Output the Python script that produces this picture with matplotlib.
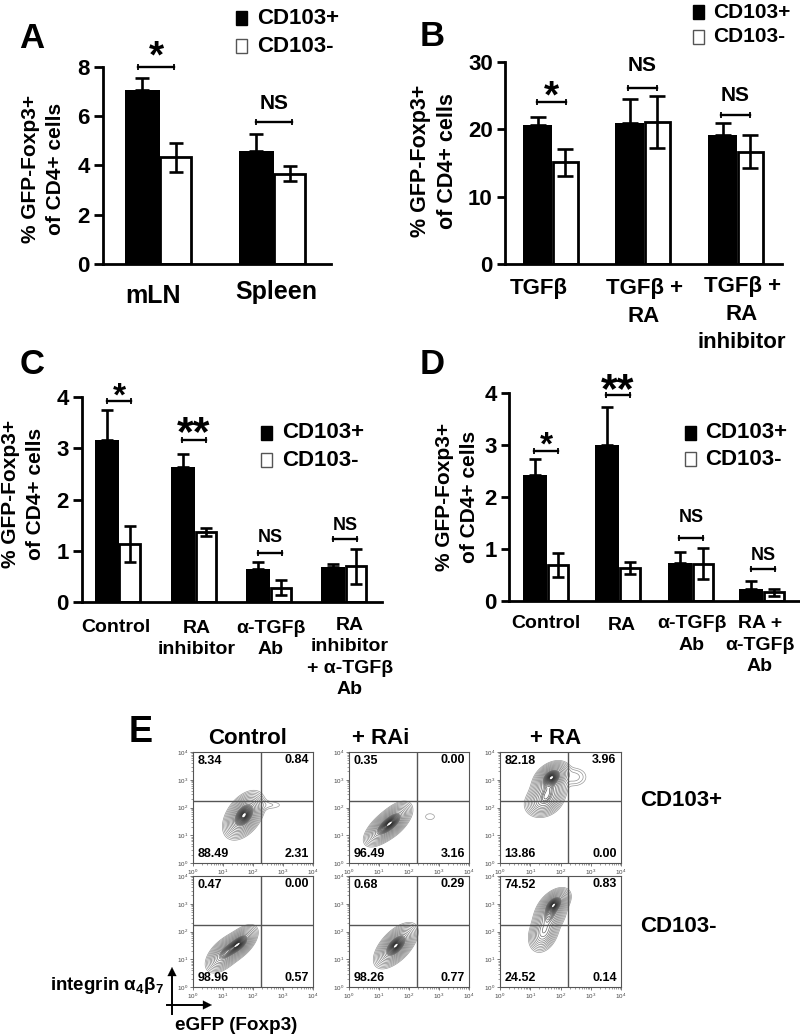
import matplotlib
matplotlib.use("Agg")
import matplotlib.pyplot as plt
import numpy as np

plt.rcParams["font.family"] = ["Liberation Sans", "DejaVu Sans"]
plt.rcParams["font.weight"] = "bold"
plt.rcParams["mathtext.fontset"] = "custom"
plt.rcParams["mathtext.bf"] = "Liberation Sans:bold"
plt.rcParams["mathtext.rm"] = "Liberation Sans"

W, H = 800, 1036

# panel A
a_groups = ["mLN", "Spleen"]
a_pos = [7.05, 4.58]
a_pos_err = [0.52, 0.68]
a_neg = [4.33, 3.66]
a_neg_err = [0.58, 0.30]
a_yticks = [0, 2, 4, 6, 8]
a_sig = ["*", "NS"]
a_sig_y = [8.0, 5.77]

# panel B
b_groups = ["TGFβ", "TGFβ +\nRA", "TGFβ +\nRA\ninhibitor"]
b_pos = [20.6, 20.9, 19.1]
b_pos_err = [1.3, 3.6, 1.9]
b_neg = [15.1, 21.1, 16.7]
b_neg_err = [2.0, 3.8, 2.5]
b_yticks = [0, 10, 20, 30]
b_sig = ["*", "NS", "NS"]
b_sig_y = [24.05, 26.2, 22.07]

# panel C
c_groups = ["Control", "RA\ninhibitor", "α-TGFβ\nAb", "RA\ninhibitor\n+ α-TGFβ\nAb"]
c_pos = [3.17, 2.63, 0.64, 0.68]
c_pos_err = [0.58, 0.25, 0.14, 0.055]
c_neg = [1.14, 1.37, 0.28, 0.70]
c_neg_err = [0.35, 0.08, 0.145, 0.34]
c_yticks = [0, 1, 2, 3, 4]
c_sig = ["*", "**", "NS", "NS"]
c_sig_y = [3.93, 3.17, 0.96, 1.22]

# panel D
d_groups = ["Control", "RA", "α-TGFβ\nAb", "RA +\nα-TGFβ\nAb"]
d_pos = [2.42, 3.0, 0.74, 0.24]
d_pos_err = [0.31, 0.74, 0.205, 0.15]
d_neg = [0.69, 0.64, 0.72, 0.17]
d_neg_err = [0.23, 0.115, 0.29, 0.07]
d_yticks = [0, 1, 2, 3, 4]
d_sig = ["*", "**", "NS", "NS"]
d_sig_y = [2.89, 3.955, 1.22, 0.62]

# panel E, percentages per quadrant: UL, UR, LL, LR
e_cols = ["Control", "+ RAi", "+ RA"]
e_rows = ["CD103+", "CD103-"]
e_q = [
    [["8.34", "0.84", "88.49", "2.31"], ["0.35", "0.00", "96.49", "3.16"], ["82.18", "3.96", "13.86", "0.00"]],
    [["0.47", "0.00", "98.96", "0.57"], ["0.68", "0.29", "98.26", "0.77"], ["74.52", "0.83", "24.52", "0.14"]],
]
# contour blobs: log10 x, log10 y, sd x, sd y, correlation, weight
e_blobs = [
    [[(1.70, 1.72, 0.24, 0.30, 0.45, 1.0), (2.50, 2.09, 0.35, 0.11, 0.0, 0.02)],
     [(1.50, 1.55, 0.22, 0.24, 0.55, 1.0), (1.25, 1.35, 0.22, 0.22, 0.5, 0.7), (1.05, 1.15, 0.22, 0.22, 0.55, 0.5),
      (2.70, 1.67, 0.28, 0.20, 0.0, 0.02)],
     [(1.71, 3.10, 0.21, 0.20, 0.35, 1.0), (1.60, 2.60, 0.23, 0.25, 0.2, 0.5), (1.44, 2.22, 0.24, 0.22, 0.2, 0.4),
      (2.45, 3.10, 0.25, 0.20, 0.0, 0.04)]],
    [[(1.60, 1.62, 0.20, 0.22, 0.55, 1.0), (1.30, 1.40, 0.22, 0.22, 0.5, 0.75), (1.00, 1.15, 0.22, 0.24, 0.5, 0.6)],
     [(1.56, 1.49, 0.25, 0.28, 0.6, 1.0)],
     [(1.80, 3.00, 0.19, 0.20, 0.45, 1.0), (1.65, 2.60, 0.20, 0.25, 0.3, 0.6), (1.45, 2.00, 0.19, 0.28, 0.3, 0.5)]],
]
e_gates = [[(2.27, 2.23), (2.27, 2.23), (2.25, 2.23)],
           [(2.27, 2.23), (2.27, 2.23), (2.25, 2.23)]]
e_ticks = [0, 1, 2, 3, 4]


fig = plt.figure(figsize=(W / 100, H / 100), dpi=100)


def px_axes(x0, y_top, x1, y_bot):
    return fig.add_axes([x0 / W, 1 - y_bot / H, (x1 - x0) / W, (y_bot - y_top) / H])


def t(x, y, s, size=13.5, **kw):
    kw.setdefault("ha", "center")
    kw.setdefault("va", "center")
    fig.text(x / W, 1 - y / H, s, fontsize=size, fontweight="bold", **kw)


def legend(x, y0, y1, tx, size=16):
    for y, col, ec, name in [(y0, "black", "black", "CD103+"), (y1, "white", "#555555", "CD103-")]:
        fig.add_artist(plt.Rectangle(((x - 5.5) / W, 1 - (y + 6.5) / H), 11 / W, 13 / H,
                                     transform=fig.transFigure, fc=col, ec=ec, lw=1.0))
        t(tx, y, name, size=size, ha="left")


def bar_panel(box, left, ymax, yticks, groups, pos, pos_err, neg, neg_err, sig, sig_y, sig_x, half, sig_off,
              centers, wb, ww, labs, lab_size, ls, ylab, ns_size=13, star=24, cap=4.5, tick_size=16, pad=3):
    # box in pixels: axis x, y of top tick, right end of baseline, y of zero
    x0, y_top, x1, y_bot = box
    ax = px_axes(x0, y_top, x1, y_bot)
    ax.set_xlim(x0, x1)
    ax.set_ylim(0, ymax)
    for c, p, pe, n, ne in zip(centers, pos, pos_err, neg, neg_err):
        ax.bar(c - wb / 2, p, wb, color="black", edgecolor="black", lw=0)
        ax.bar(c + ww / 2, n, ww - 1, color="white", edgecolor="black", lw=2)
        ax.errorbar(c - wb / 2, p, yerr=[[0], [pe]], color="black", capsize=cap, capthick=1.9, elinewidth=1.9)
        ax.errorbar(c + ww / 2, n, yerr=ne, color="black", capsize=cap, capthick=1.9, elinewidth=1.9)
    for c, s, y, off in zip(sig_x, sig, sig_y, sig_off):
        ax.plot([c - half, c + half], [y, y], color="black", lw=1.7, clip_on=False, marker="|", ms=5, mew=1.3)
        size = ns_size if s == "NS" else (31 if s == "**" else star)
        # baseline offset so the glyph centre lands off px above the bar
        base = off - (0.34 if s == "NS" else 0.47) * size * 100 / 72
        ax.annotate(s, (c, y), xytext=(0, base), textcoords="offset pixels", ha="center", va="baseline",
                    fontsize=size, annotation_clip=False)
    for side in ["top", "right"]:
        ax.spines[side].set_visible(False)
    ax.spines["left"].set_linewidth(2)
    ax.spines["bottom"].set_linewidth(2)
    ax.set_yticks(yticks)
    ax.tick_params(axis="y", width=2, length=(x0 - left) * 0.72, labelsize=tick_size, pad=pad)
    ax.set_xticks([])
    ax.patch.set_alpha(0)
    t(ylab[0], ylab[1], "% GFP-Foxp3+\nof CD4+ cells", size=ylab[2], rotation=90, linespacing=1.42, ha="center")
    for (gx, gy), g in zip(labs, groups):
        t(gx, gy, g, size=lab_size, va="top", linespacing=ls)
    return ax


bar_panel((103, 67, 331, 264), 94, 8, a_yticks, a_groups, a_pos, a_pos_err, a_neg, a_neg_err, a_sig, a_sig_y,
          [156, 274], 18, [18, 20], [160, 274], 35, 32, [(153, 284), (276, 280)], 18, 1.2, (43, 169, 15),
          ns_size=15, star=28, cap=5)
t(32, 38, "A", size=25)
legend(241, 18, 46, 257)

bar_panel((505, 62, 782, 264), 497, 30, b_yticks, b_groups, b_pos, b_pos_err, b_neg, b_neg_err, b_sig, b_sig_y,
          [551, 642, 735], 14.5, [13, 24, 21], [552, 644, 737], 29, 26,
          [(539, 278), (644, 278), (742, 276)], 16, 1.43, (434, 161, 15.5), ns_size=15, star=28, cap=5.5)
t(432, 37, "B", size=25)
legend(698, 12, 37, 713, size=15)

bar_panel((82, 397, 382, 602), 73, 4, c_yticks, c_groups, c_pos, c_pos_err, c_neg, c_neg_err, c_sig, c_sig_y,
          [119, 194, 270, 345], 12, [11, 15, 17, 16], [119, 195, 270, 345], 24, 21,
          [(116, 619), (197, 620), (271, 620), (350, 617)], 14, 1.33, (23, 494, 15))
t(32, 365, "C", size=25)
legend(266, 433, 460, 282)

bar_panel((509, 393, 800, 601), 501, 4, d_yticks, d_groups, d_pos, d_pos_err, d_neg, d_neg_err, d_sig, d_sig_y,
          [546, 618, 691, 763], 11.7, [12, 13, 22, 15], [547, 619, 692, 763], 24, 21,
          [(546, 615), (622, 617), (692, 615), (760, 615)], 14, 1.35, (457, 497, 15))
t(432, 365, "D", size=25)
legend(690, 433, 459, 705)

# panel E
t(141, 733, "E", size=26)
col_x = [(193, 313), (349, 469), (500, 621)]
row_y = [(752, 863), (876, 987)]
q_off = [(0.15, 3.68), (3.05, 3.72), (0.15, 0.33), (3.06, 0.33)]
xx, yy = np.meshgrid(np.linspace(0, 4, 320), np.linspace(0, 4, 320))
# contour radii: even spacing outside, dense towards the dark middle
radii = np.concatenate([np.linspace(3.0, 1.3, 11), np.linspace(1.2, 0.3, 14)])
levels = np.exp(-radii ** 2 / 2)
line_cols = plt.cm.gray(np.linspace(0.6, 0.15, len(levels)))
minor = [k + np.log10(m) for k in e_ticks[:-1] for m in range(2, 10)]

for r, (yt, yb) in enumerate(row_y):
    for c, (xl, xr) in enumerate(col_x):
        ax = px_axes(xl, yt, xr, yb)
        ax.set_xlim(0, 4)
        ax.set_ylim(0, 4)
        z = np.zeros_like(xx)
        for mx, my, sx, sy, rho, w in e_blobs[r][c]:
            u, v = (xx - mx) / sx, (yy - my) / sy
            z += w * np.exp(-(u * u - 2 * rho * u * v + v * v) / (2 * (1 - rho * rho)))
        z = z / z.max()
        ax.contour(xx, yy, z, levels=levels, colors=line_cols, linewidths=0.5)
        gx, gy = e_gates[r][c]
        ax.axvline(gx, color="#555555", lw=1)
        ax.axhline(gy, color="#555555", lw=1)
        ax.set_xticks(e_ticks)
        ax.set_yticks(e_ticks)
        ax.set_xticks(minor, minor=True)
        ax.set_yticks(minor, minor=True)
        tick_names = [f"$\\mathregular{{10^{k}}}$" for k in e_ticks]
        ax.set_xticklabels(tick_names, fontsize=4.5, fontweight="normal")
        ax.set_yticklabels(tick_names, fontsize=4.5, fontweight="normal")
        ax.tick_params(length=2.2, width=0.5, pad=1, colors="#444444")
        ax.tick_params(which="minor", length=1.1, width=0.4, colors="#555555")
        for sp in ax.spines.values():
            sp.set_linewidth(0.8)
            sp.set_color("#555555")
        for (qx, qy), s in zip(q_off, e_q[r][c]):
            ax.text(qx, qy, s, fontsize=9, fontweight="bold", va="center", ha="left")

for x, s in zip([248, 381, 556], e_cols):
    t(x, 739, s, size=16)
t(640, 801, e_rows[0], size=16, ha="left")
t(640, 927, e_rows[1], size=16, ha="left")

# axis arrows bottom left
fig.add_artist(plt.Line2D([172 / W, 172 / W], [1 - 1014 / H, 1 - 975 / H], color="black", lw=1.4))
fig.add_artist(plt.Line2D([167 / W, 204 / W], [1 - 1005 / H, 1 - 1005 / H], color="black", lw=1.4))
ann = dict(arrowstyle="-|>", color="black", lw=0.1, mutation_scale=16, shrinkA=0, shrinkB=0)
plt.annotate("", xy=(172 / W, 1 - 967 / H), xytext=(172 / W, 1 - 977 / H), xycoords="figure fraction",
             textcoords="figure fraction", arrowprops=ann)
plt.annotate("", xy=(212 / W, 1 - 1005 / H), xytext=(202 / W, 1 - 1005 / H), xycoords="figure fraction",
             textcoords="figure fraction", arrowprops=ann)
t(107, 986, "integrin α$\\mathbf{_4}$β$\\mathbf{_7}$", size=13.5)
t(236, 1026, "eGFP (Foxp3)", size=13.6)

fig.savefig("out.png", dpi=100)
